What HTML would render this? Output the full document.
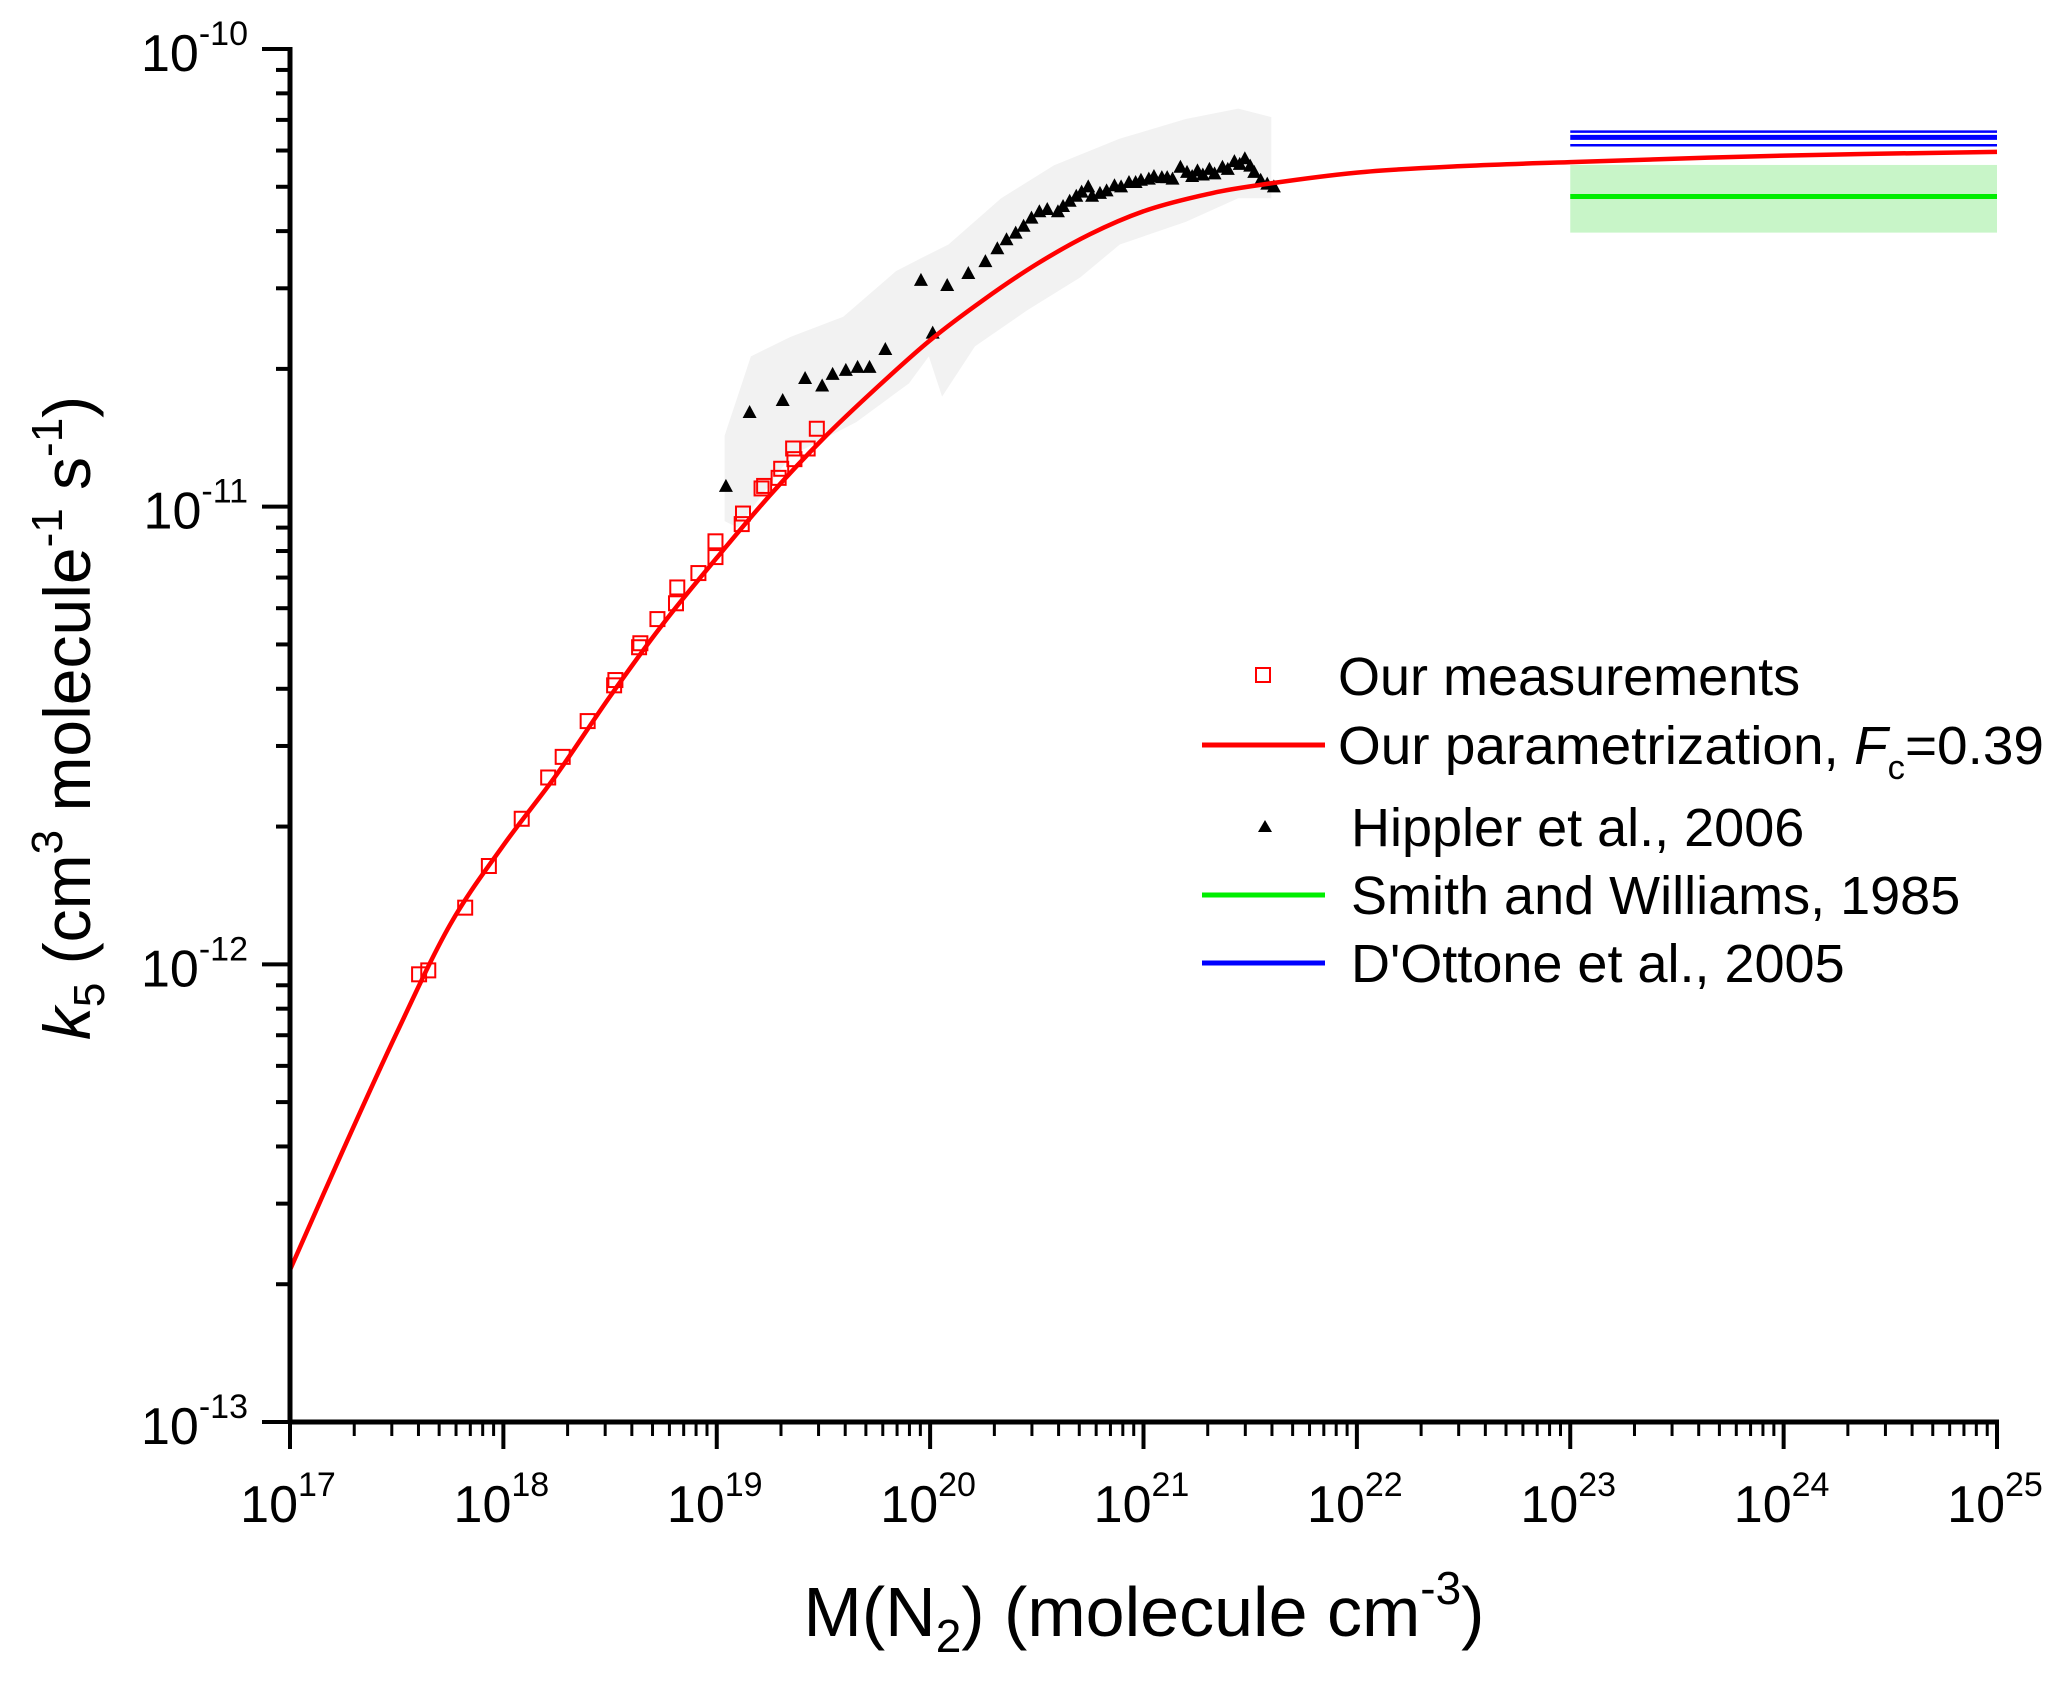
<!DOCTYPE html>
<html><head><meta charset="utf-8"><style>
html,body{margin:0;padding:0;background:#fff;}
svg{display:block;font-family:"Liberation Sans",Arial,sans-serif;}
</style></head><body>
<svg id="chart" width="2067" height="1684" viewBox="0 0 2067 1684" xmlns="http://www.w3.org/2000/svg">
<g id="bands"></g>
<g id="series"></g>
<g id="axes"></g>
<g id="legend" font-size="54">
  <rect x="1256" y="668" width="14" height="14" fill="none" stroke="#ff0000" stroke-width="2"/>
  <text x="1338" y="695">Our measurements</text>
  <line x1="1202" y1="745" x2="1325" y2="745" stroke="#ff0000" stroke-width="5"/>
  <text x="1338" y="764" textLength="706" lengthAdjust="spacingAndGlyphs">Our parametrization, <tspan font-style="italic">F</tspan><tspan font-size="34" dy="15">c</tspan><tspan dy="-15">=0.39</tspan></text>
  <path d="M1265,820 L1272,832 L1258,832 Z" fill="#000"/>
  <text x="1351" y="846">Hippler et al., 2006</text>
  <line x1="1202" y1="895" x2="1325" y2="895" stroke="#00ee00" stroke-width="5"/>
  <text x="1351" y="914">Smith and Williams, 1985</text>
  <line x1="1202" y1="963" x2="1325" y2="963" stroke="#0000ff" stroke-width="5"/>
  <text x="1351" y="982">D'Ottone et al., 2005</text>
</g>
</svg>
<script>
// ---- data (x = log10 M, k in cm3 molecule-1 s-1) ----
const curveLogM = [17,17.25,17.5,17.75,18,18.25,18.5,18.75,19,19.25,19.5,19.75,20,20.25,20.5,20.75,21,21.25,21.5,22,22.5,23,24,25];
const curveK = [2.15e-13,3.94e-13,7.08e-13,1.22e-12,1.82e-12,2.60e-12,3.85e-12,5.56e-12,7.73e-12,1.06e-11,1.41e-11,1.82e-11,2.31e-11,2.83e-11,3.39e-11,3.94e-11,4.42e-11,4.76e-11,5.01e-11,5.37e-11,5.55e-11,5.66e-11,5.85e-11,5.96e-11];
const measLogM = [17.605,17.648,17.821,17.932,18.086,18.210,18.278,18.395,18.519,18.525,18.636,18.642,18.722,18.809,18.815,18.914,18.994,18.994,19.117,19.123,19.210,19.222,19.290,19.302,19.358,19.364,19.426,19.469];
const measK = [0.951e-12,0.97e-12,1.33e-12,1.64e-12,2.08e-12,2.56e-12,2.84e-12,3.40e-12,4.07e-12,4.18e-12,4.93e-12,5.03e-12,5.68e-12,6.15e-12,6.66e-12,7.16e-12,7.76e-12,8.40e-12,9.16e-12,9.66e-12,1.096e-11,1.11e-11,1.156e-11,1.21e-11,1.34e-11,1.27e-11,1.34e-11,1.48e-11];
const hipLogM = [19.043,19.154,19.309,19.414,19.494,19.543,19.605,19.660,19.716,19.790,19.957,20.012,20.080,20.179,20.259,20.315,20.358,20.401,20.438,20.475,20.512,20.549,20.599,20.623,20.654,20.685,20.710,20.741,20.759,20.796,20.827,20.864,20.895,20.932,20.963,20.988,21.025,21.049,21.086,21.111,21.136,21.173,21.204,21.228,21.253,21.278,21.309,21.333,21.370,21.395,21.426,21.451,21.475,21.500,21.519,21.549,21.580,21.611];
const hipK = [1.11,1.61,1.71,1.91,1.84,1.95,1.99,2.02,2.02,2.21,3.13,2.40,3.05,3.24,3.44,3.67,3.84,3.97,4.11,4.28,4.42,4.47,4.42,4.54,4.66,4.78,4.88,5.01,4.78,4.85,4.91,5.04,5.01,5.12,5.12,5.18,5.21,5.28,5.25,5.25,5.21,5.53,5.39,5.28,5.43,5.32,5.47,5.35,5.53,5.47,5.69,5.61,5.77,5.56,5.39,5.18,5.08,5.01];
const bandUpLogM = [19.037,19.160,19.346,19.593,19.840,19.963,20.086,20.333,20.580,20.889,21.198,21.444,21.599];
const bandUpK = [1.43,2.13,2.35,2.60,3.27,3.50,3.74,4.72,5.57,6.37,7.03,7.41,7.1];
const bandLoLogM = [21.599,21.444,21.198,20.889,20.704,20.457,20.210,20.056,19.994,19.901,19.654,19.346,19.099,19.037];
const bandLoK = [4.72,4.72,4.19,3.74,3.17,2.69,2.24,1.74,2.13,1.86,1.53,1.29,0.90,0.93];
const smithRange = [23,25];
const smithK = [4.76e-11, 3.97e-11, 5.58e-11]; // value, lower, upper
const dottoneK = [6.41e-11, 6.16e-11, 6.6e-11];
const xTickExp = [17,18,19,20,21,22,23,24,25];
const yTickExp = [-10,-11,-12,-13];

// ---- axis functions ----
const X0=290, X1=1997, YT=49, YB=1422;
const X = lm => X0 + (lm-17)/(25-17)*(X1-X0);
const Y = k => YT + (-10 - Math.log10(k))/3*(YB-YT);
const NS='http://www.w3.org/2000/svg';
function mk(tag, parent){const e=document.createElementNS(NS,tag);parent.appendChild(e);return e;}
const bands=document.getElementById('bands'), series=document.getElementById('series'), axes=document.getElementById('axes');

let pts=[];
bandUpLogM.forEach((m,i)=>pts.push(X(m)+','+Y(bandUpK[i]*1e-11)));
bandLoLogM.forEach((m,i)=>pts.push(X(m)+','+Y(bandLoK[i]*1e-11)));
const gb=mk('polygon',bands);


gb.setAttribute('points',pts.join(' '));gb.setAttribute('fill','#f2f2f2');

const sb=mk('rect',bands);


sb.setAttribute('x',X(smithRange[0]));sb.setAttribute('width',X(smithRange[1])-X(smithRange[0]));
sb.setAttribute('y',Y(smithK[2]));sb.setAttribute('height',Y(smithK[1])-Y(smithK[2]));sb.setAttribute('fill','#c8f5c8');

measLogM.forEach((m,i)=>{
  const r=mk('rect',series);
  
  
  r.setAttribute('x',X(m)-7);r.setAttribute('y',Y(measK[i])-7);r.setAttribute('width',14);r.setAttribute('height',14);
  r.setAttribute('fill','none');r.setAttribute('stroke','#ff0000');r.setAttribute('stroke-width','2');
});
hipLogM.forEach((m,i)=>{
  const x=X(m), y=Y(hipK[i]*1e-11);
  const p=mk('path',series);
  
  
  p.setAttribute('d',`M${x},${y-7} L${x+7},${y+6} L${x-7},${y+6} Z`);p.setAttribute('fill','#000');
});
dottoneK.forEach((k,i)=>{
  const l=mk('line',series);
  
  
  l.setAttribute('x1',X(smithRange[0]));l.setAttribute('x2',X(smithRange[1]));
  l.setAttribute('y1',Y(k));l.setAttribute('y2',Y(k));l.setAttribute('stroke','#0000ff');l.setAttribute('stroke-width',i==0?5:2.5);
});
const gl=mk('line',series);


gl.setAttribute('x1',X(smithRange[0]));gl.setAttribute('x2',X(smithRange[1]));
gl.setAttribute('y1',Y(smithK[0]));gl.setAttribute('y2',Y(smithK[0]));gl.setAttribute('stroke','#00ee00');gl.setAttribute('stroke-width',5);

const cpts=curveLogM.map((m,i)=>[X(m),Y(curveK[i])]);
let d='M'+cpts[0][0]+','+cpts[0][1];
for(let i=0;i<cpts.length-1;i++){
  const p0=cpts[Math.max(0,i-1)],p1=cpts[i],p2=cpts[i+1],p3=cpts[Math.min(cpts.length-1,i+2)];
  const c1=[p1[0]+(p2[0]-p0[0])/6,p1[1]+(p2[1]-p0[1])/6],c2=[p2[0]-(p3[0]-p1[0])/6,p2[1]-(p3[1]-p1[1])/6];
  d+=` C${c1[0]},${c1[1]} ${c2[0]},${c2[1]} ${p2[0]},${p2[1]}`;
}
const cp=mk('path',series);


cp.setAttribute('d',d);
cp.setAttribute('fill','none');cp.setAttribute('stroke','#ff0000');cp.setAttribute('stroke-width','4.5');cp.setAttribute('stroke-linejoin','round');

function line(x1,y1,x2,y2,w,name){const l=mk('line',axes);
  
  
  l.setAttribute('x1',x1);l.setAttribute('y1',y1);l.setAttribute('x2',x2);l.setAttribute('y2',y2);l.setAttribute('stroke','#000');l.setAttribute('stroke-width',w);}
line(X0,YT-2,X0,YB+2,5,'y-axis-line');
line(X0-2,YB,X1+2,YB,5,'x-axis-line');
xTickExp.forEach((e,i)=>{
  line(X(e),YB,X(e),YB+27,4,'x-major-tick');
  if(i<xTickExp.length-1) for(let d=2;d<=9;d++) line(X(e+Math.log10(d)),YB,X(e+Math.log10(d)),YB+14,3,'x-minor-tick');
  const t=mk('text',axes);
  
  
  t.setAttribute('x',X(e)-2);t.setAttribute('y',1522);t.setAttribute('text-anchor','middle');t.setAttribute('font-size','52');
  t.innerHTML=`10<tspan font-size="34" dy="-26">${e}</tspan>`;
});
yTickExp.forEach((e,i)=>{
  const k=Math.pow(10,e);
  line(X0-28,Y(k),X0,Y(k),4,'y-major-tick');
  if(i>0) for(let d=2;d<=9;d++) line(X0-14,Y(k*d),X0,Y(k*d),4,'y-minor-tick');
  const t=mk('text',axes);
  
  
  t.setAttribute('x',248);t.setAttribute('y',Y(k)+22);t.setAttribute('text-anchor','end');t.setAttribute('font-size','52');
  t.innerHTML=`10<tspan font-size="34" dy="-26">${e}</tspan>`;
});
const xt=mk('text',axes);


xt.setAttribute('x',1144);xt.setAttribute('y',1636);xt.setAttribute('text-anchor','middle');xt.setAttribute('font-size','70');
xt.innerHTML='M(N<tspan font-size="46" dy="16">2</tspan><tspan dy="-16">) (molecule cm</tspan><tspan font-size="46" dy="-32">-3</tspan><tspan dy="32">)</tspan>';
const yt=mk('text',axes);


yt.setAttribute('transform','translate(90,718) rotate(-90)');yt.setAttribute('text-anchor','middle');yt.setAttribute('font-size','66');
yt.innerHTML='<tspan font-style="italic">k</tspan><tspan font-size="44" dy="14">5</tspan><tspan dy="-14"> (cm</tspan><tspan font-size="44" dy="-28">3</tspan><tspan dy="28"> molecule</tspan><tspan font-size="44" dy="-28">-1</tspan><tspan dy="28"> s</tspan><tspan font-size="44" dy="-28">-1</tspan><tspan dy="28">)</tspan>';
</script>
</body></html>
